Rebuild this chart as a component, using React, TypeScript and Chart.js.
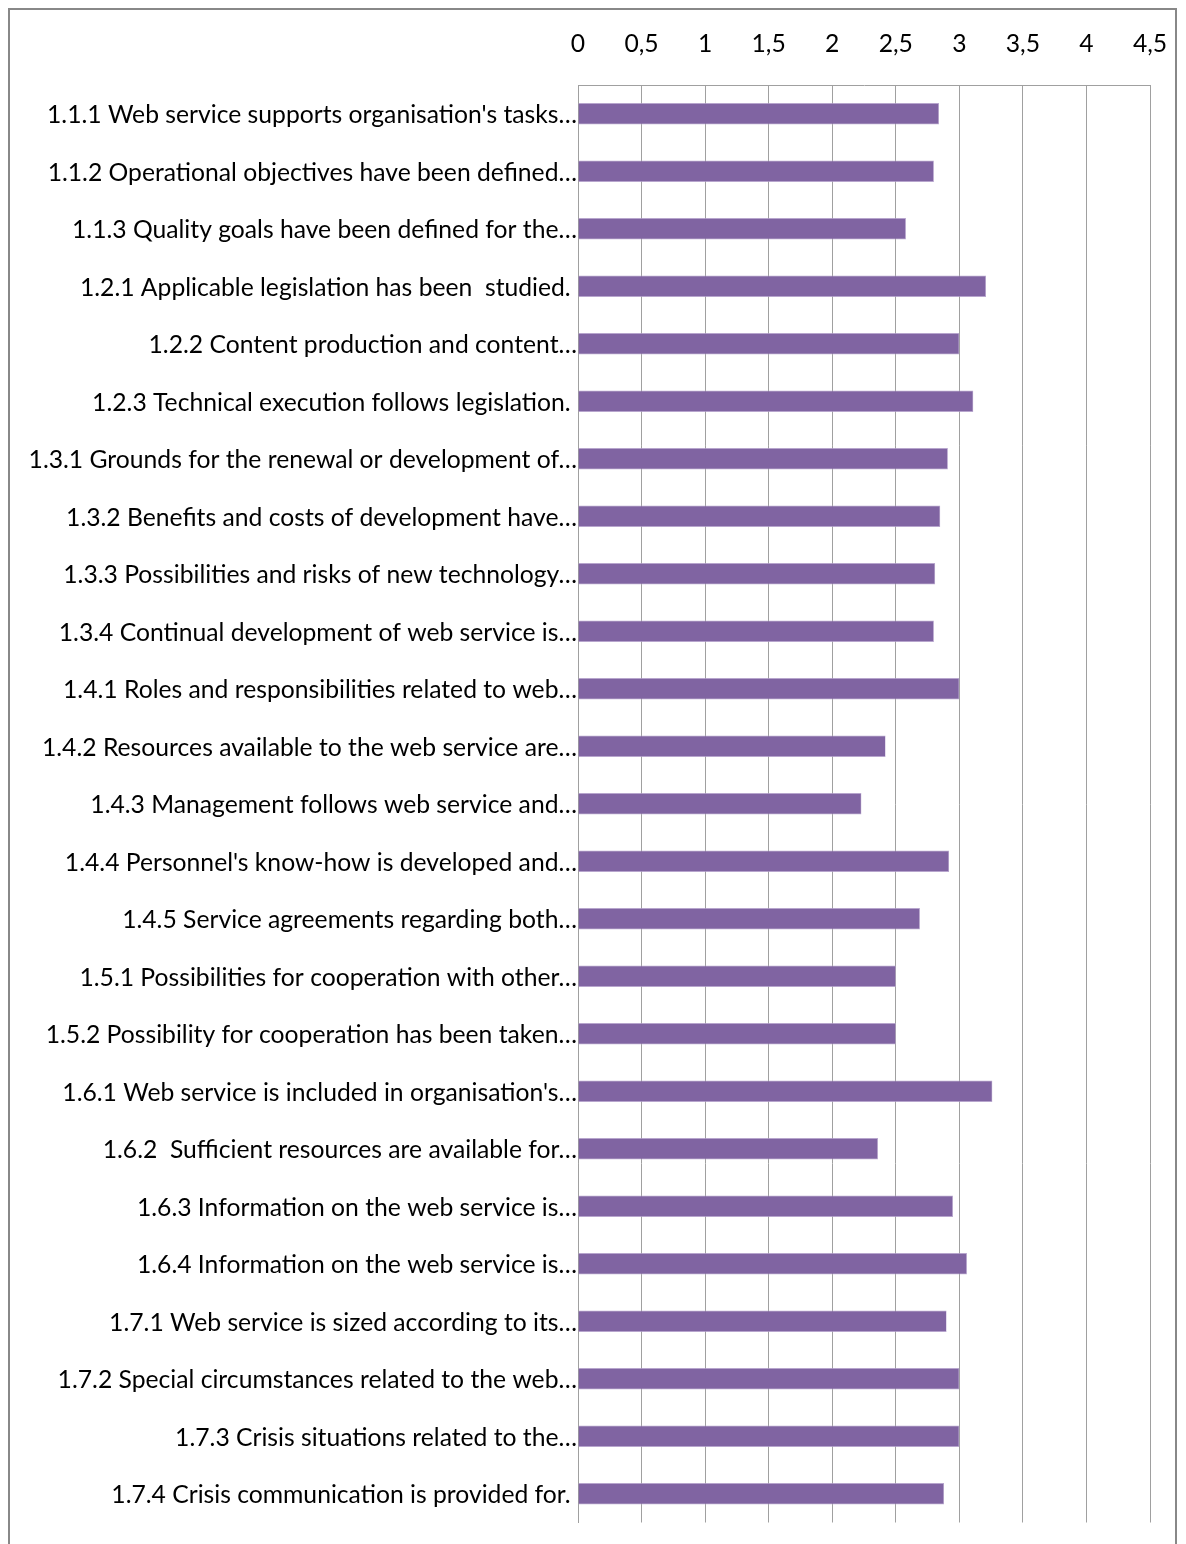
import React, { useEffect, useRef } from "react";
import { Chart, registerables } from "chart.js";

Chart.register(...registerables);

const categories: string[] = [
  "1.1.1 Web service supports organisation's tasks…",
  "1.1.2 Operational objectives have been defined…",
  "1.1.3 Quality goals have been defined for the…",
  "1.2.1 Applicable legislation has been  studied. ",
  "1.2.2 Content production and content…",
  "1.2.3 Technical execution follows legislation. ",
  "1.3.1 Grounds for the renewal or development of…",
  "1.3.2 Benefits and costs of development have…",
  "1.3.3 Possibilities and risks of new technology…",
  "1.3.4 Continual development of web service is…",
  "1.4.1 Roles and responsibilities related to web…",
  "1.4.2 Resources available to the web service are…",
  "1.4.3 Management follows web service and…",
  "1.4.4 Personnel's know-how is developed and…",
  "1.4.5 Service agreements regarding both…",
  "1.5.1 Possibilities for cooperation with other…",
  "1.5.2 Possibility for cooperation has been taken…",
  "1.6.1 Web service is included in organisation's…",
  "1.6.2  Sufficient resources are available for…",
  "1.6.3 Information on the web service is…",
  "1.6.4 Information on the web service is…",
  "1.7.1 Web service is sized according to its…",
  "1.7.2 Special circumstances related to the web…",
  "1.7.3 Crisis situations related to the…",
  "1.7.4 Crisis communication is provided for. ",
];

const scores: number[] = [
  2.84, 2.8, 2.58, 3.21, 3.0, 3.11, 2.91, 2.85, 2.81, 2.8, 3.0, 2.42, 2.23,
  2.92, 2.69, 2.5, 2.5, 3.26, 2.36, 2.95, 3.06, 2.9, 3.0, 3.0, 2.88,
];

const axisMin = 0;
const axisMax = 4.5;
const axisStep = 0.5;

const FONT = "Lato, 'Noto Sans', sans-serif";
const FONT_SIZE = 24.7;

export default function App() {
  const canvasRef = useRef<HTMLCanvasElement | null>(null);

  useEffect(() => {
    document.documentElement.style.overflow = "hidden";
    document.body.style.overflow = "hidden";
    if (!canvasRef.current) return;
    const chart = new Chart(canvasRef.current, {
      type: "bar",
      data: {
        labels: categories,
        datasets: [
          {
            data: scores,
            backgroundColor: "#8064A2",
            borderColor: "#B9A6D0",
            borderWidth: 0.6,
            barPercentage: 0.37,
            categoryPercentage: 1,
          },
        ],
      },
      options: {
        indexAxis: "y",
        responsive: false,
        animation: false,
        maintainAspectRatio: false,
        layout: { padding: { left: 0, top: 0, right: 25, bottom: 47.5 } },
        plugins: {
          legend: { display: false },
          tooltip: { enabled: false },
        },
        scales: {
          x: {
            position: "top",
            min: axisMin,
            max: axisMax,
            afterFit: (scale: any) => {
              scale.height = 75;
              scale.paddingLeft = 0;
              scale.paddingRight = 0;
            },
            ticks: {
              stepSize: axisStep,
              padding: 26,
              color: "#000",
              font: { family: FONT, size: FONT_SIZE },
              callback: (v: any) => String(v).replace(".", ","),
            },
            grid: {
              color: "#A0A0A0",
              lineWidth: 1,
              drawTicks: false,
            },
            border: { display: true, color: "#A0A0A0", width: 1 },
          },
          y: {
            afterFit: (scale: any) => {
              scale.width = 568;
              scale.paddingTop = 0;
              scale.paddingBottom = 0;
            },
            ticks: {
              autoSkip: false,
              padding: 1,
              labelOffset: 1.5,
              color: "#000",
              font: { family: FONT, size: FONT_SIZE },
            },
            grid: { display: false, drawTicks: false },
            border: { display: true, color: "#A0A0A0", width: 1 },
          },
        },
      },
    });
    return () => chart.destroy();
  }, []);

  return (
    <div style={{ height: 1540, width: 1169, overflow: "hidden" }}>
      <div
        style={{
          border: "2px solid #888888",
          width: 1165,
          height: 1560,
          boxSizing: "content-box",
          background: "#fff",
        }}
      >
        <canvas
          ref={canvasRef}
          width={1165}
          height={1560}
          style={{ display: "block", width: 1165, height: 1560 }}
        />
      </div>
    </div>
  );
}
